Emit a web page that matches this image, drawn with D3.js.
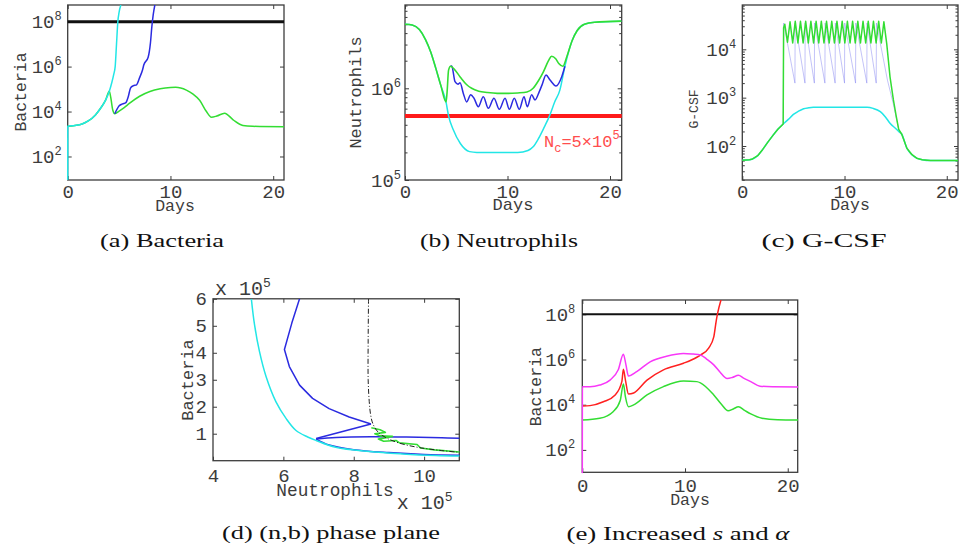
<!DOCTYPE html>
<html><head><meta charset="utf-8">
<script src="https://cdn.jsdelivr.net/npm/d3@7"></script>
<style>body{margin:0;background:#fff} text{white-space:pre}</style>
</head><body>
<svg id="c" width="960" height="550" xmlns="http://www.w3.org/2000/svg"></svg>
<script>
// ================= DATA =================
const dayTicks = [0, 10, 20];
const bacteriaTicks = [1e2, 1e4, 1e6, 1e8];
const neutroTicks = [1e5, 1e6];
const gcsfTicks = [1e2, 1e3, 1e4];
const phaseNTicks = [4e5, 6e5, 8e5, 10e5];
const phaseBTicks = [1e5, 2e5, 3e5, 4e5, 5e5, 6e5];
const bacteriaThreshold = 1e8;
const neutropeniaThreshold = 5e5;

// (a) Bacteria  [day, bacteria]
const aCyan = [[0,9],[0.01,2.2e3],[0.7,2.4e3],[1.4,2.8e3],[2,3.8e3],[2.7,7.1e3],[3.2,1.4e4],[3.7,3.3e4],[4.05,8e4],[4.3,2e5],[4.48,4.5e5],[4.62,1e6],[4.75,1e7],[4.88,1e8],[5.0,2.6e8],[5.17,5.5e8]];
const aGreen = [[0.01,2.2e3],[0.7,2.4e3],[1.4,2.8e3],[2,3.8e3],[2.7,7.1e3],[3.2,1.4e4],[3.7,3.3e4],[4.05,8e4],[4.2,4e4],[4.38,1.2e4],[4.58,8e3],[5,1.05e4],[5.5,1.5e4],[6,2.3e4],[7,4.8e4],[8,7.8e4],[9,1.03e5],[10,1.18e5],[10.5,1.2e5],[11,1.12e5],[11.55,9e4],[12.2,6e4],[12.84,3.2e4],[13.5,1e4],[13.98,5.6e3],[14.5,6.3e3],[15.27,8.5e3],[16.1,4.3e3],[17.05,2.4e3],[18,2.2e3],[21.05,2.1e3]];
const aBlue = [[4.58,8e3],[5.01,1.8e4],[5.34,2.2e4],[5.66,2.5e4],[5.9,4.7e4],[6.11,1.1e5],[6.37,1.4e5],[6.7,1.55e5],[7.02,3.4e5],[7.28,7e5],[7.41,1.2e6],[7.83,2.6e6],[8.05,1.1e7],[8.19,6e7],[8.32,2e8],[8.48,5.5e8]];

// (b) Neutrophils [day, neutrophils]
const bGreen = [[0,5.0e6],[0.7,4.9e6],[1.4,4.37e6],[2,3.4e6],[2.5,2.5e6],[3,1.66e6],[3.5,1.07e6],[4.0,7.1e5],[4.1,8.9e5],[4.25,1.58e6],[4.45,1.74e6],[4.8,1.62e6],[5.4,1.32e6],[6.0,1.1e6],[6.5,1.0e6],[7.2,9.3e5],[8,9.0e5],[9,8.8e5],[10,8.8e5],[11,8.9e5],[11.9,9.1e5],[12.5,1.0e6],[13,1.2e6],[13.5,1.51e6],[14,2.0e6],[14.3,2.24e6],[14.7,2.1e6],[15.0,1.86e6],[15.4,1.74e6],[15.8,2.24e6],[16.3,3.3e6],[16.8,4.27e6],[17.5,5.0e6],[18.5,5.25e6],[21.1,5.4e6]];
const bCyan = [[0,5.0e6],[0.7,4.9e6],[1.4,4.37e6],[2,3.4e6],[2.5,2.5e6],[3,1.66e6],[3.5,1.07e6],[4.0,7.1e5],[4.25,5.0e5],[4.7,3.55e5],[5.4,2.5e5],[6.3,2.04e5],[7,2.0e5],[9,2.0e5],[11,2.0e5],[12,2.1e5],[12.5,2.3e5],[13,2.8e5],[13.6,3.8e5],[14.1,5.0e5],[14.6,7.1e5],[15.1,9.5e5],[15.6,1.74e6],[16.3,3.3e6],[16.8,4.27e6],[17.5,5.0e6],[18.5,5.25e6],[21.1,5.4e6]];
const bBlue = [[4.45,1.74e6],[4.56,1.75e6],[4.88,1.18e6],[5.17,1.11e6],[5.37,1.15e6],[5.69,8.8e5],[6.02,7.1e5],[6.41,8.5e5],[6.73,7.8e5],[7.15,6.3e5],[7.64,8.1e5],[8.13,6.05e5],[8.68,7.8e5],[9.2,5.9e5],[9.76,7.8e5],[10.18,5.9e5],[10.66,7.8e5],[11.15,5.9e5],[11.61,8.1e5],[11.93,6.3e5],[12.36,8.5e5],[12.68,7.45e5],[13.1,9.2e5],[13.37,1.09e6],[13.76,1.4e6],[14.15,1.23e6],[14.73,1.06e6],[15.29,1.34e6],[15.6,1.74e6]];

// (c) G-CSF [day, G-CSF]
const cCyan = [[0,51],[0.7,52],[1,54],[1.5,63],[2,85],[2.5,120],[3,166],[3.5,224],[4.0,285],[4.5,355],[5,450],[5.5,525],[6,590],[6.5,617],[6.95,630],[9,630],[12.2,630],[12.8,600],[13.5,513],[14,400],[14.45,295],[15,230],[15.3,200],[15.6,175],[16.1,90],[16.6,66],[17.06,56],[17.6,52],[18.4,50],[21.1,50]];
const cGreen = [[0,51],[0.7,52],[1,54],[1.5,63],[2,85],[2.5,120],[3,166],[3.5,224],[4.0,285],[4.04,2.8e4],
  [4.16,3.3e4],[4.42,1.4e4],[4.67,3.7e4],[4.93,1.35e4],[5.18,3.8e4],[5.44,1.35e4],[5.69,3.8e4],[5.95,1.35e4],[6.2,3.8e4],[6.46,1.35e4],
  [6.71,3.8e4],[6.97,1.35e4],[7.22,3.8e4],[7.48,1.35e4],[7.73,3.8e4],[7.99,1.35e4],[8.24,3.8e4],[8.5,1.35e4],[8.75,3.8e4],[9.01,1.35e4],
  [9.26,3.8e4],[9.52,1.35e4],[9.77,3.8e4],[10.03,1.35e4],[10.28,3.8e4],[10.54,1.35e4],[10.79,3.8e4],[11.05,1.35e4],[11.3,3.8e4],[11.56,1.35e4],
  [11.81,3.8e4],[12.07,1.35e4],[12.32,3.8e4],[12.58,1.35e4],[12.83,3.8e4],[13.09,1.35e4],[13.34,3.8e4],[13.6,1.35e4],[13.85,3.7e4],
  [14.13,1.3e4],[14.45,2.7e3],[14.78,900],[15.05,420],[15.3,220],[15.6,175],[16.1,90],[16.6,66],[17.06,56],[17.6,52],[18.4,50],[21.1,50]];
const cBlue = [[4.0,285],[4.05,3.5e4],[5.15,2000],[5.17,3.5e4],[6.13,2000],[6.15,3.5e4],[7.05,2000],[7.07,3.5e4],[8.08,2000],[8.1,3.5e4],[9.08,2000],[9.1,3.5e4],[10.0,2000],[10.02,3.5e4],[11.08,2000],[11.1,3.5e4],[12.18,2000],[12.2,3.5e4],[13.1,2000],[13.12,3.5e4],[14.2,2300],[14.8,700],[15.3,220]];

// (d) phase plane [neutrophils, bacteria]
const dCyan = [[11e5,0.17e5],[10.33e5,0.19e5],[9.38e5,0.25e5],[8.44e5,0.34e5],[7.49e5,0.5e5],[6.93e5,0.75e5],[6.69e5,0.88e5],[6.36e5,1.12e5],[6.08e5,1.56e5],[5.79e5,2.18e5],[5.51e5,3.11e5],[5.32e5,4.05e5],[5.18e5,5.04e5],[5.09e5,6.0e5]];
const dBlueLow = [[11e5,0.2e5],[10e5,0.23e5],[9e5,0.3e5],[8e5,0.41e5],[7.3e5,0.58e5],[6.93e5,0.8e5]];
const dBlueJump = [[6.93e5,0.8e5],[7.5e5,0.86e5],[8.5e5,0.89e5],[9.5e5,0.88e5],[10.5e5,0.85e5],[11e5,0.83e5]];
const dBlueBack = [[6.93e5,0.82e5],[8.49e5,1.36e5]];
const dBlueUp = [[8.49e5,1.36e5],[7.87e5,1.62e5],[7.3e5,1.93e5],[6.83e5,2.31e5],[6.46e5,2.8e5],[6.17e5,3.49e5],[6.03e5,4.12e5],[6.24e5,5.1e5],[6.46e5,6.0e5]];
const dGreen = [[8.5e5,1.22e5],[8.75e5,1.15e5],[8.9e5,1.05e5],[8.6e5,1.0e5],[8.75e5,0.92e5],[9.1e5,0.9e5],[8.7e5,0.8e5],[8.85e5,0.72e5],[9.2e5,0.75e5],[9.3e5,0.66e5],[9.8e5,0.6e5],[9.9e5,0.47e5],[10.3e5,0.4e5],[11e5,0.32e5]];
const dNullcline = [[8.42e5,6e5],[8.41e5,4.5e5],[8.41e5,3e5],[8.44e5,2.2e5],[8.48e5,1.7e5],[8.55e5,1.35e5],[8.7e5,1.05e5],[8.95e5,0.83e5],[9.3e5,0.65e5],[9.8e5,0.5e5],[10.4e5,0.39e5],[11e5,0.31e5]];

// (e) Increased s and alpha [day, bacteria]
const eMagenta = [[0,9],[0.01,6.3e4],[0.75,6.3e4],[1.7,7.4e4],[2.7,1.23e5],[3.5,3.5e5],[4.0,1.7e6],[4.25,5.8e5],[4.49,1.86e5],[5.3,2.9e5],[6.6,7.9e5],[8.2,1.4e6],[9.85,1.86e6],[10.8,1.74e6],[11.5,1.6e6],[12.1,1.05e6],[12.8,5.8e5],[13.4,2.8e5],[14.1,1.45e5],[14.6,1.6e5],[15.2,2.0e5],[15.7,1.5e5],[16.4,1.05e5],[17.3,6.6e4],[18.5,6.2e4],[21,6.1e4]];
const eRed = [[0.01,8.7e3],[0.75,9.1e3],[2.05,1.35e4],[3.2,2.7e4],[3.85,1.05e5],[4.0,3.7e5],[4.2,1.23e5],[4.5,2.95e4],[5.0,3.3e4],[6.3,1.23e5],[7.9,3.5e5],[9.85,6.8e5],[11.15,1.26e6],[11.5,1.58e6],[12.3,3.2e6],[12.8,1e7],[13.05,5.6e7],[13.17,1.1e8],[13.5,4.3e8]];
const eGreen = [[0.01,2.1e3],[1.7,2.5e3],[3.0,4.9e3],[3.7,1.58e4],[4.0,8.3e4],[4.2,2.2e4],[4.5,8.1e3],[5.0,9.8e3],[6.3,2.7e4],[7.9,6.3e4],[9.85,1.12e5],[11.15,1.05e5],[11.5,9.3e4],[12.8,2.7e4],[13.5,1.1e4],[14.2,5.4e3],[14.7,6.5e3],[15.2,8.1e3],[15.8,5.6e3],[16.4,3.9e3],[17.5,2.5e3],[19,2.15e3],[21,2.1e3]];

// ================= DRAWING =================
const svg = d3.select("#c");
const MONO = "'Liberation Mono','DejaVu Sans Mono',monospace";
const SERIF = "'Liberation Serif','DejaVu Serif',serif";
const INK = "#3c3c3c";
const C = {cyan:"#22e6e6", green:"#33dd33", blue:"#2b2be0", red:"#ff2020", magenta:"#f838f8", black:"#111"};

function panel(id, box, xDom, yDom, yLog){
  const x = d3.scaleLinear().domain(xDom).range([box.l, box.r]);
  const y = (yLog ? d3.scaleLog() : d3.scaleLinear()).domain(yDom).range([box.b, box.t]);
  const g = svg.append("g");
  svg.append("clipPath").attr("id","clip"+id).append("rect")
    .attr("x", box.l-1).attr("y", box.t).attr("width", box.r-box.l+2).attr("height", box.b-box.t+1);
  return {id, box, x, y, g, yLog};
}

function supText(sel, base, exp, fs){
  sel.text(null);
  sel.append("tspan").text(base);
  sel.append("tspan").attr("dy", -8).attr("font-size", fs).text(exp);
}

function axes(P, s){
  const {x, y, box, g} = P;
  const mk = (gen, tx, ty, vals, size, fmt) => {
    const a = g.append("g").attr("transform", `translate(${tx},${ty})`)
      .call(gen.tickValues(vals).tickSize(size).tickSizeOuter(0).tickFormat(fmt || (() => "")));
    a.select(".domain").remove();
    a.attr("color", INK).attr("font-family", MONO).attr("font-size", s.fs || 19);
    a.selectAll("line").attr("stroke-width", 1);
    return a;
  };
  const L = 4;
  const bottom = mk(d3.axisBottom(x), 0, box.b, s.xTicks, -L, s.xFmt);
  bottom.selectAll("text").attr("y", s.xLabY).attr("dy", null);
  mk(d3.axisTop(x), 0, box.t, s.xTicks, -L);
  const left = mk(d3.axisLeft(y), box.l, 0, s.yTicks, -L, s.yLog ? (d => "x") : s.yFmt);
  left.selectAll("text").attr("x", -s.yGap).attr("dy", null).attr("y", 6);
  if (s.yLog) left.selectAll("text").each(function(d){ supText(d3.select(this), "10", Math.round(Math.log10(d)), 12); });
  mk(d3.axisRight(y), box.r, 0, s.yTicks, -L);
  if (s.minor){
    const mv = y.ticks().filter(v => Math.abs(Math.log10(v) - Math.round(Math.log10(v))) > 1e-6);
    mk(d3.axisLeft(y), box.l, 0, mv, -2.5);
    mk(d3.axisRight(y), box.r, 0, mv, -2.5);
  }
  g.append("rect").attr("x", box.l).attr("y", box.t).attr("width", box.r-box.l).attr("height", box.b-box.t)
    .attr("fill","none").attr("stroke", INK).attr("stroke-width", 1.3);
  // titles
  g.append("text").attr("x", s.xt[0]).attr("y", s.xt[1]).attr("text-anchor","middle")
    .attr("font-family", MONO).attr("font-size", s.xt[2]).attr("fill", INK).text(s.xTitle);
  g.append("text").attr("transform", `translate(${s.yt[0]},${s.yt[1]}) rotate(-90)`).attr("text-anchor","middle")
    .attr("font-family", MONO).attr("font-size", s.yt[2]).attr("fill", INK).text(s.yTitle);
  P.plot = g.append("g").attr("clip-path", `url(#clip${P.id})`);
}

function line(P, data, color, w, curve, extra){
  const p = P.plot.append("path").datum(data).attr("fill","none").attr("stroke", color)
    .attr("stroke-width", w).attr("stroke-linejoin","round")
    .attr("d", d3.line().x(d => P.x(d[0])).y(d => P.y(d[1])).curve(curve || d3.curveMonotoneX));
  if (extra) extra(p);
  return p;
}
function hline(P, value, color, w){
  const xd = P.x.domain();
  line(P, [[xd[0], value],[xd[1], value]], color, w, d3.curveLinear);
}

// ---- (a)
const A = panel("a", {l:67.7, r:284, t:5, b:180}, [0, 21.05], [9, 5.5e8], true);
axes(A, {xTicks: dayTicks, xFmt: d3.format("d"), xLabY: 18, yTicks: bacteriaTicks, yLog: true, yGap: 6,
  xTitle: "Days", xt: [175, 211, 16.5], yTitle: "Bacteria", yt: [25.5, 92, 16.5]});
hline(A, bacteriaThreshold, C.black, 3);
line(A, aGreen, C.green, 1.5);
line(A, aBlue, C.blue, 1.5);
line(A, aCyan, C.cyan, 1.5);

// ---- (b)
const B = panel("b", {l:405, r:621.7, t:5, b:180}, [0, 21.14], [1e5, 8.1e6], true);
axes(B, {xTicks: dayTicks, xFmt: d3.format("d"), xLabY: 18, yTicks: neutroTicks, yLog: true, yGap: 4, minor: true,
  xTitle: "Days", xt: [513, 210, 17], yTitle: "Neutrophils", yt: [361, 92.5, 17]});
hline(B, neutropeniaThreshold, "#ff1a1a", 4);
line(B, bCyan, C.cyan, 1.5);
line(B, bBlue, C.blue, 1.5);
line(B, bGreen, C.green, 1.6);
{
  const t = B.g.append("text").attr("x", 544).attr("y", 146.7).attr("font-family", MONO).attr("fill", "#ff4d4d").attr("font-size", 17);
  t.append("tspan").text("N");
  t.append("tspan").attr("dy", 5).attr("font-size", 12).text("c");
  t.append("tspan").attr("dy", -5).text("=5×10");
  t.append("tspan").attr("dy", -8).attr("font-size", 12).text("5");
}

// ---- (c)
const Cp = panel("c", {l:742.3, r:958, t:5, b:180}, [0, 21.1], [19.8, 8.26e4], true);
axes(Cp, {xTicks: dayTicks, xFmt: d3.format("d"), xLabY: 18, yTicks: gcsfTicks, yLog: true, yGap: 6, minor: true,
  xTitle: "Days", xt: [850, 210, 16.5], yTitle: "G-CSF", yt: [698, 109, 13]});
line(Cp, cCyan, C.cyan, 1.5);
line(Cp, cBlue, "#8080f0", 0.8, d3.curveLinear, p => p.attr("opacity", 0.6));
line(Cp, cGreen, C.green, 1.5, d3.curveLinear);

// ---- (d)
const D = panel("d", {l:213, r:459.3, t:298.8, b:460.7}, [4e5, 11e5], [0, 6e5], false);
axes(D, {xTicks: phaseNTicks, xFmt: d => d/1e5, xLabY: 21, yTicks: phaseBTicks, yFmt: d => d/1e5, yGap: 6,
  xTitle: "Neutrophils", xt: [335, 495.5, 17.8], yTitle: "Bacteria", yt: [192.5, 380, 17]});
line(D, dBlueLow, C.blue, 1.5, d3.curveCatmullRom);
line(D, dBlueJump, C.blue, 1.5, d3.curveCatmullRom);
line(D, dBlueBack, C.blue, 1.5, d3.curveLinear);
line(D, dBlueUp, C.blue, 1.5, d3.curveLinear);
line(D, dCyan, C.cyan, 1.5, d3.curveCatmullRom);
line(D, dGreen, C.green, 1.6, d3.curveLinear);
line(D, dNullcline, "#222", 1, d3.curveCatmullRom, p => p.attr("stroke-dasharray", "5,2,1,2"));
{
  const t1 = D.g.append("text").attr("x", 215).attr("y", 295).attr("font-family", MONO).attr("font-size", 20).attr("fill", INK);
  supText(t1, "x 10", "5", 13);
  const t2 = D.g.append("text").attr("x", 396.7).attr("y", 509).attr("font-family", MONO).attr("font-size", 20).attr("fill", INK);
  supText(t2, "x 10", "5", 13);
}

// ---- (e)
const E = panel("e", {l:582.3, r:797.7, t:300, b:472.3}, [0, 20.97], [10.2, 4.3e8], true);
axes(E, {xTicks: dayTicks, xFmt: d3.format("d"), xLabY: 19.5, yTicks: bacteriaTicks, yLog: true, yGap: 7,
  xTitle: "Days", xt: [690, 505, 16.5], yTitle: "Bacteria", yt: [540.5, 386.7, 16.5]});
hline(E, bacteriaThreshold, C.black, 2);
line(E, eGreen, C.green, 1.5);
line(E, eRed, C.red, 1.5);
line(E, eMagenta, C.magenta, 1.5);

// ---- captions
const captions = [
  {x:162, y:247, len:124, parts:[["(a) Bacteria",false]]},
  {x:499, y:247, len:158, parts:[["(b) Neutrophils",false]]},
  {x:824, y:247, len:125, parts:[["(c) G-CSF",false]]},
  {x:331, y:539, len:218, parts:[["(d) (n,b) phase plane",false]]},
  {x:678, y:540, len:223, parts:[["(e) Increased ",false],["s",true],[" and ",false],["α",true]]}
];
captions.forEach(c => {
  const t = svg.append("text").attr("x", c.x).attr("y", c.y).attr("text-anchor","middle")
    .attr("font-family", SERIF).attr("font-size", 18).attr("fill", "#111")
    .attr("textLength", c.len).attr("lengthAdjust", "spacingAndGlyphs");
  c.parts.forEach(p => { const s = t.append("tspan").text(p[0]); if (p[1]) s.attr("font-style","italic"); });
});
</script>
</body></html>
